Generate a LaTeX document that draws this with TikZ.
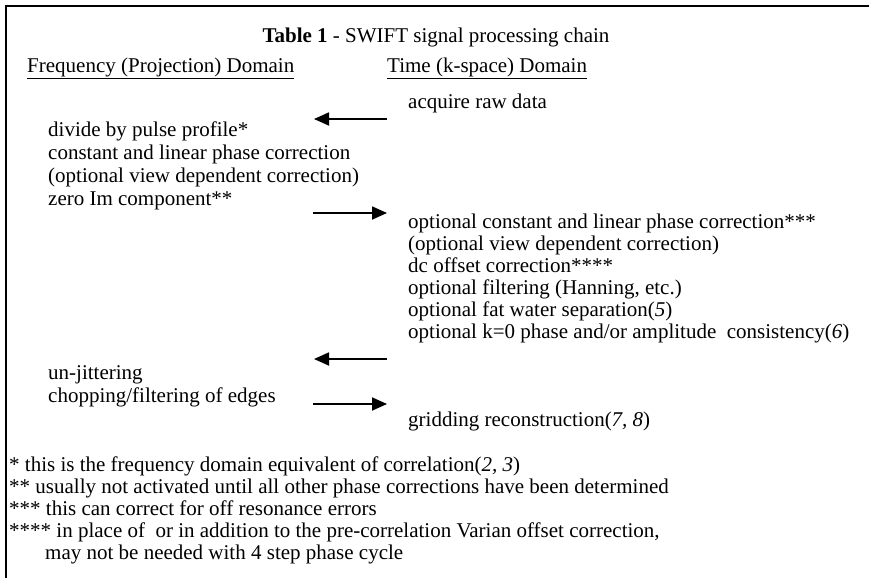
\documentclass[tikz,border=0pt]{standalone}
\usepackage{fontspec}
\setmainfont{Liberation Serif}
\usetikzlibrary{arrows.meta}
\begin{document}
\begin{tikzpicture}[x=1pt,y=-1pt,
  txt/.style={anchor=base west, inner sep=0pt, font=\fontsize{21}{23}\selectfont},
  hdr/.style={txt},
  arr/.style={line width=1.8pt, -{Triangle[length=15pt,width=13pt]}}]
\useasboundingbox (0,0) rectangle (869,578);
\fill[white] (0,0) rectangle (869,578);
\draw[line width=2.2pt] (869,6) -- (6,6) -- (6,578);
% title and headers
\node[anchor=base, inner sep=0pt, font=\fontsize{21}{23}\selectfont] (title) at (436,42) {\textbf{Table 1} - SWIFT signal processing chain};
\node[hdr] (hf) at (27,72) {\underline{Frequency (Projection) Domain}};
\node[hdr] (ht) at (387,72) {\underline{Time (k-space) Domain}};
% right column
\node[txt] (acq) at (408,108) {acquire raw data};
% left column
\node[txt] (l1) at (48,136) {divide by pulse profile*};
\node[txt] (l2) at (48,159) {constant and linear phase correction};
\node[txt] (l3) at (48,182) {(optional view dependent correction)};
\node[txt] (l4) at (48,205) {zero Im component**};
\node[txt] (r1) at (408,228) {optional constant and linear phase correction***};
\node[txt] (r2) at (408,250) {(optional view dependent correction)};
\node[txt] (r3) at (408,272) {dc offset correction****};
\node[txt] (r4) at (408,294) {optional filtering (Hanning, etc.)};
\node[txt] (r5) at (408,316) {optional fat water separation(\textit{5})};
\node[txt] (r6) at (408,338) {optional k=0 phase and/or amplitude\ \ consistency(\textit{6})};
\node[txt] (l5) at (48,379) {un-jittering};
\node[txt] (l6) at (48,402) {chopping/filtering of edges};
\node[txt] (r7) at (408,426) {gridding reconstruction(\textit{7, 8})};
% footnotes
\node[txt] (f1) at (9,471) {* this is the frequency domain equivalent of correlation(\textit{2, 3})};
\node[txt] (f2) at (9,493) {** usually not activated until all other phase corrections have been determined};
\node[txt] (f3) at (9,515) {*** this can correct for off resonance errors};
\node[txt] (f4) at (9,537) {**** in place of\ \ or in addition to the pre-correlation Varian offset correction,};
\node[txt] (f5) at (45,559) {may not be needed with 4 step phase cycle};
% arrows
\coordinate (a1s) at (387,119); \coordinate (a1e) at (314,119);
\coordinate (a2s) at (313,213); \coordinate (a2e) at (387,213);
\coordinate (a3s) at (387,359); \coordinate (a3e) at (314,359);
\coordinate (a4s) at (313,404); \coordinate (a4e) at (387,404);
\draw[arr] (a1s) -- (a1e);
\draw[arr] (a2s) -- (a2e);
\draw[arr] (a3s) -- (a3e);
\draw[arr] (a4s) -- (a4e);
\end{tikzpicture}
\end{document}
